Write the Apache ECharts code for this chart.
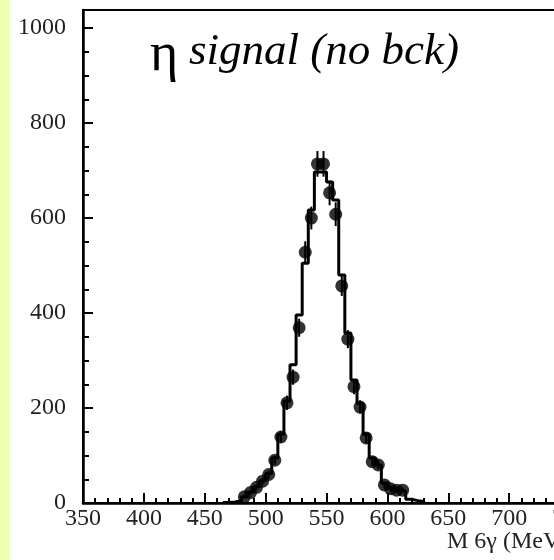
<!DOCTYPE html>
<html>
<head>
<meta charset="utf-8">
<script src="https://cdn.jsdelivr.net/npm/echarts@6/dist/echarts.min.js"></script>
<style>
html,body{margin:0;padding:0;background:#fff;}
#c{width:554px;height:560px;}
</style>
</head>
<body>
<div id="c"></div>
<script>
// Data points (bin centers, MeV) with counts and errors
var dataCenters = [482.5,487.5,492.5,497.5,502.5,507.5,512.5,517.5,522.5,527.5,532.5,537.5,542.5,547.5,552.5,557.5,562.5,567.5,572.5,577.5,582.5,587.5,592.5,597.5,602.5,607.5,612.5];
var dataCounts  = [13,22,33,46,60,90,139,211,265,369,528,600,714,714,653,608,457,345,245,202,137,87,80,38,30,27,27];
var dataErrors  = [4,5,6,7,8,9,12,15,16,19,23,24,27,27,26,25,21,19,16,14,12,9,9,6,5,5,5];
// Simulated signal histogram: lower bin edges (MeV) and contents
var mcBinLow = [465,470,475,480,485,490,495,500,505,510,515,520,525,530,535,540,545,550,555,560,565,570,575,580,585,590,595,600,605,610,615,620,625];
var mcCounts = [1,2,5,13,23,34,47,62,95,145,215,291,396,505,617,697,697,676,638,480,358,259,210,145,95,80,42,32,28,25,8,5,3];
var mcBinWidth = 5;
var yTicks = [0,200,400,600,800,1000];
var xTicks = [350,400,450,500,550,600,650,700,750,800];

var serif = '"Liberation Serif", "DejaVu Serif", serif';

var stepPts = mcBinLow.map(function(x,i){return [x, mcCounts[i]];});
stepPts.push([mcBinLow[mcBinLow.length-1] + mcBinWidth, 0]);

var pts = dataCenters.map(function(x,i){return [x, dataCounts[i]];});
var errPts = dataCenters.map(function(x,i){return [x, dataCounts[i]-dataErrors[i], dataCounts[i]+dataErrors[i]];});

var chart = echarts.init(document.getElementById('c'), null, {renderer:'canvas'});
chart.setOption({
  animation:false,
  backgroundColor:'#fff',
  grid:{left:83, top:10, width:548, height:493, outerBoundsMode:'none', containLabel:false,
        show:true, borderColor:'#000', borderWidth:2, backgroundColor:'transparent'},
  xAxis:{
    type:'value', min:xTicks[0], max:xTicks[xTicks.length-1], interval:50,
    axisLine:{show:true, onZero:false, lineStyle:{color:'#000', width:2.5}},
    axisTick:{show:true, inside:true, length:10, lineStyle:{color:'#000', width:2}},
    minorTick:{show:true, splitNumber:5, length:5, lineStyle:{color:'#000', width:2}},
    splitLine:{show:false},
    axisLabel:{color:'#222', fontFamily:serif, fontSize:24, margin:4, formatter:function(v){return String(v);}}
  },
  yAxis:{
    type:'value', min:yTicks[0], max:1038, interval:200,
    axisLine:{show:true, lineStyle:{color:'#000', width:2.5}},
    axisTick:{show:true, inside:true, length:10, lineStyle:{color:'#000', width:2}},
    minorTick:{show:true, splitNumber:4, length:6, lineStyle:{color:'#000', width:2}},
    splitLine:{show:false},
    axisLabel:{color:'#222', fontFamily:serif, fontSize:24, margin:17, showMaxLabel:false, formatter:function(v){return String(v);}}
  },
  graphic:[
    {type:'rect', left:0, top:0, shape:{width:10, height:560}, style:{fill:'#efffb0'}, silent:true},
    {type:'text', left:447, top:530, style:{text:'M 6γ (MeV)', font:'24px ' + serif, fill:'#222'}},
    {type:'text', left:150, top:29, style:{text:'η', font:'54px ' + serif, fill:'#000'}},
    {type:'text', left:189, top:30, style:{text:'signal (no bck)', font:'italic 45px ' + serif, fill:'#000'}}
  ],
  series:[
    {type:'line', data:stepPts, step:'end', symbol:'none', lineStyle:{color:'#000', width:3}, z:2},
    {type:'custom', data:errPts, z:3,
      renderItem:function(params, api){
        var top = api.coord([api.value(0), api.value(2)]);
        var bot = api.coord([api.value(0), api.value(1)]);
        return {type:'line', shape:{x1:top[0], y1:top[1], x2:bot[0], y2:bot[1]}, style:{stroke:'#000', lineWidth:2}};
      }},
    {type:'scatter', data:pts, symbol:'circle', symbolSize:13, itemStyle:{color:'#000'}, z:4}
  ]
});
</script>
</body>
</html>
